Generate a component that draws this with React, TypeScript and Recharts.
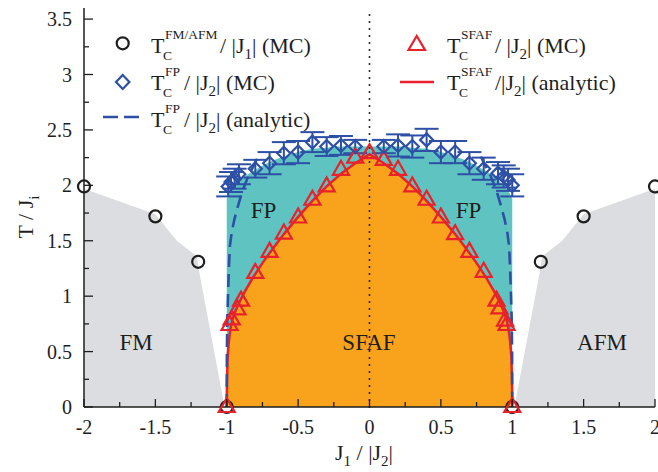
import React from "react";
import {
  ComposedChart, Area, Line, Scatter, XAxis, YAxis, ReferenceLine, ErrorBar,
} from "recharts";

// ── ticks ────────────────────────────────────────────────────────
const xTicks = [-2, -1.75, -1.5, -1.25, -1, -0.75, -0.5, -0.25, 0, 0.25, 0.5, 0.75, 1, 1.25, 1.5, 1.75, 2];
const yTicks = [0, 0.25, 0.5, 0.75, 1, 1.25, 1.5, 1.75, 2, 2.25, 2.5, 2.75, 3, 3.25, 3.5];

// ── MC points ────────────────────────────────────────────────────
const fmAfmMC = [
  { x: -2, y: 1.99 }, { x: -1.5, y: 1.72 }, { x: -1.2, y: 1.31 }, { x: -1, y: 0 },
  { x: 1, y: 0 }, { x: 1.2, y: 1.31 }, { x: 1.5, y: 1.72 }, { x: 2, y: 1.99 },
];

const fpMC = [
  { x: -0.99, y: 1.99, err: 0.09 }, { x: -0.97, y: 2.03, err: 0.09 },
  { x: -0.945, y: 2.06, err: 0.09 }, { x: -0.915, y: 2.1, err: 0.09 },
  { x: -0.8, y: 2.15, err: 0.08 }, { x: -0.7, y: 2.2, err: 0.1 },
  { x: -0.6, y: 2.29, err: 0.1 }, { x: -0.5, y: 2.3, err: 0.1 },
  { x: -0.4, y: 2.39, err: 0.09 }, { x: -0.3, y: 2.35, err: 0.085 },
  { x: -0.2, y: 2.36, err: 0.085 }, { x: -0.1, y: 2.35, err: 0.06 },
  { x: 0.1, y: 2.35, err: 0.06 }, { x: 0.2, y: 2.36, err: 0.1 },
  { x: 0.3, y: 2.35, err: 0.1 }, { x: 0.4, y: 2.41, err: 0.1 },
  { x: 0.5, y: 2.3, err: 0.1 }, { x: 0.6, y: 2.3, err: 0.1 },
  { x: 0.7, y: 2.2, err: 0.1 }, { x: 0.8, y: 2.15, err: 0.1 },
  { x: 0.9, y: 2.11, err: 0.1 }, { x: 0.94, y: 2.08, err: 0.1 },
  { x: 0.97, y: 2.05, err: 0.1 }, { x: 1.0, y: 2.0, err: 0.1 },
];

const sfafMC = [
  { x: -1, y: 0 }, { x: -0.98, y: 0.74 }, { x: -0.965, y: 0.79 }, { x: -0.925, y: 0.88 },
  { x: -0.9, y: 0.96 }, { x: -0.8, y: 1.21 }, { x: -0.7, y: 1.4 }, { x: -0.6, y: 1.565 },
  { x: -0.5, y: 1.71 }, { x: -0.4, y: 1.87 }, { x: -0.3, y: 1.99 }, { x: -0.2, y: 2.14 },
  { x: -0.1, y: 2.25 }, { x: 0, y: 2.29 },
  { x: 0.1, y: 2.23 }, { x: 0.2, y: 2.14 }, { x: 0.3, y: 1.99 }, { x: 0.4, y: 1.87 },
  { x: 0.5, y: 1.71 }, { x: 0.6, y: 1.56 }, { x: 0.7, y: 1.4 }, { x: 0.8, y: 1.22 },
  { x: 0.89, y: 0.96 }, { x: 0.91, y: 0.89 }, { x: 0.95, y: 0.78 }, { x: 0.96, y: 0.74 },
  { x: 1, y: 0 },
];

// ── analytic curves ──────────────────────────────────────────────
const sfafAnalytic = [
  { x: -1, y: 0 }, { x: -0.999, y: 0.15 }, { x: -0.997, y: 0.3 }, { x: -0.994, y: 0.45 },
  { x: -0.986, y: 0.58 }, { x: -0.976, y: 0.69 }, { x: -0.96, y: 0.79 }, { x: -0.938, y: 0.87 },
  { x: -0.91, y: 0.95 }, { x: -0.87, y: 1.05 }, { x: -0.82, y: 1.16 }, { x: -0.76, y: 1.28 },
  { x: -0.7, y: 1.39 }, { x: -0.6, y: 1.56 }, { x: -0.5, y: 1.715 }, { x: -0.4, y: 1.86 },
  { x: -0.3, y: 1.99 }, { x: -0.2, y: 2.105 }, { x: -0.1, y: 2.2 }, { x: 0, y: 2.28 },
  { x: 0.1, y: 2.2 }, { x: 0.2, y: 2.105 }, { x: 0.3, y: 1.99 }, { x: 0.4, y: 1.86 },
  { x: 0.5, y: 1.715 }, { x: 0.6, y: 1.56 }, { x: 0.7, y: 1.39 }, { x: 0.76, y: 1.28 },
  { x: 0.82, y: 1.16 }, { x: 0.87, y: 1.05 }, { x: 0.91, y: 0.95 }, { x: 0.938, y: 0.87 },
  { x: 0.96, y: 0.79 }, { x: 0.976, y: 0.69 }, { x: 0.986, y: 0.58 }, { x: 0.994, y: 0.45 },
  { x: 0.997, y: 0.3 }, { x: 0.999, y: 0.15 }, { x: 1, y: 0 },
];

const fpAnalyticLeft = [
  { x: -1, y: 0 }, { x: -0.999, y: 0.5 }, { x: -0.996, y: 0.8 }, { x: -0.99, y: 1.05 },
  { x: -0.985, y: 1.25 }, { x: -0.978, y: 1.45 }, { x: -0.965, y: 1.58 }, { x: -0.945, y: 1.7 },
  { x: -0.92, y: 1.82 }, { x: -0.89, y: 1.95 }, { x: -0.85, y: 2.08 }, { x: -0.81, y: 2.18 },
  { x: -0.78, y: 2.26 },
];

const fpAnalyticRight = [
  { x: 0.78, y: 2.26 }, { x: 0.81, y: 2.18 }, { x: 0.85, y: 2.08 }, { x: 0.89, y: 1.95 },
  { x: 0.92, y: 1.82 }, { x: 0.945, y: 1.7 }, { x: 0.965, y: 1.58 }, { x: 0.978, y: 1.45 },
  { x: 0.985, y: 1.25 }, { x: 0.99, y: 1.05 }, { x: 0.996, y: 0.8 }, { x: 0.999, y: 0.5 },
  { x: 1, y: 0 },
];

// ── shaded phases ────────────────────────────────────────────────
const fmRegion = [
  { x: -2, y: 1.97 }, { x: -1.5, y: 1.74 }, { x: -1.35, y: 1.5 }, { x: -1.21, y: 1.36 },
  { x: -1.19, y: 1.2 }, { x: -1.015, y: 0 },
];
const afmRegion = [
  { x: 1.015, y: 0 }, { x: 1.19, y: 1.2 }, { x: 1.21, y: 1.36 }, { x: 1.35, y: 1.5 },
  { x: 1.5, y: 1.74 }, { x: 2, y: 1.97 },
];
const fpRegion = [
  { x: -1, y: 1.88 }, { x: -0.98, y: 1.93 }, { x: -0.95, y: 1.98 }, { x: -0.9, y: 2.05 },
  { x: -0.85, y: 2.1 }, { x: -0.8, y: 2.14 }, { x: -0.7, y: 2.21 }, { x: -0.6, y: 2.26 },
  { x: -0.5, y: 2.3 }, { x: -0.4, y: 2.33 }, { x: -0.3, y: 2.34 }, { x: -0.2, y: 2.35 },
  { x: -0.1, y: 2.35 }, { x: 0, y: 2.35 }, { x: 0.1, y: 2.35 }, { x: 0.2, y: 2.35 },
  { x: 0.3, y: 2.34 }, { x: 0.4, y: 2.33 }, { x: 0.5, y: 2.3 }, { x: 0.6, y: 2.26 },
  { x: 0.7, y: 2.21 }, { x: 0.8, y: 2.14 }, { x: 0.85, y: 2.1 }, { x: 0.9, y: 2.05 },
  { x: 0.95, y: 1.98 }, { x: 0.98, y: 1.93 }, { x: 1, y: 1.88 },
];

const SERIF = "'Liberation Serif', 'Times New Roman', serif";
const INK = "#1e1e1e";
const RED = "#e8212b";
const BLUE = "#2d50a6";

const isMajor = (v: number) => Math.abs(v * 2 - Math.round(v * 2)) < 1e-6;

const BottomTick = ({ x, y, payload }: any) => {
  const v = payload.value;
  return (
    <g>
      <line x1={x} y1={y} x2={x} y2={y - (isMajor(v) ? 8 : 5)} stroke={INK} strokeWidth={1.3} />
      {isMajor(v) && (
        <text x={x} y={y + 27} textAnchor="middle" fontSize={20} fontFamily={SERIF} fill={INK}>{String(v)}</text>
      )}
    </g>
  );
};
const TopTick = ({ x, y, payload }: any) => (
  <line x1={x} y1={y} x2={x} y2={y + (isMajor(payload.value) ? 8 : 5)} stroke={INK} strokeWidth={1.3} />
);
const LeftTick = ({ x, y, payload }: any) => {
  const v = payload.value;
  return (
    <g>
      <line x1={x} y1={y} x2={x + (isMajor(v) ? 9 : 5)} y2={y} stroke={INK} strokeWidth={1.3} />
      {isMajor(v) && (
        <text x={x - 12} y={y + 7} textAnchor="end" fontSize={20} fontFamily={SERIF} fill={INK}>{String(v)}</text>
      )}
    </g>
  );
};
const RightTick = ({ x, y, payload }: any) => (
  <line x1={x} y1={y} x2={x - (isMajor(payload.value) ? 9 : 5)} y2={y} stroke={INK} strokeWidth={1.3} />
);

const CircleMark = ({ cx, cy }: any) => (
  <circle cx={cx} cy={cy} r={6} fill="none" stroke={INK} strokeWidth={2.2} />
);
const TriangleMark = ({ cx, cy }: any) => (
  <polygon points={`${cx},${cy - 9} ${cx - 8},${cy + 5} ${cx + 8},${cy + 5}`} fill="none" stroke={RED} strokeWidth={2.2} />
);
const DiamondMark = ({ cx, cy }: any) => (
  <polygon points={`${cx},${cy - 6.5} ${cx + 6.5},${cy} ${cx},${cy + 6.5} ${cx - 6.5},${cy}`} fill="none" stroke={BLUE} strokeWidth={2.2} />
);

// legend label  T_C^sup / |J_n| tail
const TLabel = ({ x, y, sup, restX, slash, n, tail }: any) => (
  <g fontFamily={SERIF} fill={INK}>
    <text x={x} y={y} fontSize={22}>T</text>
    <text x={x + 14} y={y - 14} fontSize={13.5}>{sup}</text>
    <text x={x + 12} y={y + 7} fontSize={13.5}>C</text>
    <text x={restX} y={y} fontSize={22}>
      {slash}
      <tspan fontSize={15} dy={6}>{n}</tspan>
      <tspan dy={-6}>{tail}</tspan>
    </text>
  </g>
);

export default function App() {
  return (
    <div style={{ position: "absolute", left: 0, top: 0, width: 658, height: 472, background: "#fff" }}>
      <ComposedChart width={658} height={472} margin={{ top: 8, right: 3, left: 24, bottom: 35 }}>
        <XAxis xAxisId={0} type="number" dataKey="x" domain={[-2, 2]} ticks={xTicks} interval={0}
          tickSize={0} tickMargin={0} tickLine={false} tick={<BottomTick />} stroke={INK} strokeWidth={1.5} height={30} />
        <XAxis xAxisId="top" orientation="top" type="number" dataKey="x" domain={[-2, 2]} ticks={xTicks} interval={0}
          tickSize={0} tickMargin={0} tickLine={false} tick={<TopTick />} stroke={INK} strokeWidth={1.5} height={0} />
        <YAxis yAxisId={0} type="number" domain={[0, 3.6]} ticks={yTicks} interval={0}
          tickSize={0} tickMargin={0} tickLine={false} tick={<LeftTick />} stroke={INK} strokeWidth={1.5} width={60} />
        <YAxis yAxisId="right" orientation="right" type="number" domain={[0, 3.6]} ticks={yTicks} interval={0}
          tickSize={0} tickMargin={0} tickLine={false} tick={<RightTick />} stroke={INK} strokeWidth={1.5} width={0} />

        <Area data={fmRegion} dataKey="y" type="linear" stroke="none" fill="#dcdde0" fillOpacity={1} isAnimationActive={false} />
        <Area data={afmRegion} dataKey="y" type="linear" stroke="none" fill="#dcdde0" fillOpacity={1} isAnimationActive={false} />
        <Area data={fpRegion} dataKey="y" type="monotone" stroke="none" fill="#5fc4c1" fillOpacity={1} isAnimationActive={false} />
        <Area data={sfafAnalytic} dataKey="y" type="linear" stroke="none" fill="#f8a31b" fillOpacity={1} isAnimationActive={false} />

        <ReferenceLine x={0} stroke={INK} strokeWidth={2} strokeDasharray="0 7" strokeLinecap="round" />

        <Line data={sfafAnalytic} dataKey="y" type="linear" stroke={RED} strokeWidth={2.5} dot={false} isAnimationActive={false} />
        <Line data={fpAnalyticLeft} dataKey="y" type="linear" stroke={BLUE} strokeWidth={2.6} strokeDasharray="13 7" dot={false} isAnimationActive={false} />
        <Line data={fpAnalyticRight} dataKey="y" type="linear" stroke={BLUE} strokeWidth={2.6} strokeDasharray="13 7" dot={false} isAnimationActive={false} />

        <Scatter data={fmAfmMC} dataKey="y" shape={<CircleMark />} isAnimationActive={false} />
        <Scatter data={sfafMC} dataKey="y" shape={<TriangleMark />} isAnimationActive={false} />
        <Scatter data={fpMC} dataKey="y" shape={<DiamondMark />} isAnimationActive={false}>
          <ErrorBar dataKey="err" direction="y" width={12} stroke={BLUE} strokeWidth={2} />
        </Scatter>
      </ComposedChart>

      <svg width={658} height={472} style={{ position: "absolute", left: 0, top: 0, pointerEvents: "none" }}>
        {/* legend */}
        <circle cx={122.7} cy={43.3} r={6} fill="none" stroke={INK} strokeWidth={2.2} />
        <TLabel x={151} y={53} sup="FM/AFM" restX={220} slash="/ |J" n="1" tail="| (MC)" />
        <polygon points="122.7,75 116,82 122.7,89 129.4,82" fill="none" stroke={BLUE} strokeWidth={2.2} />
        <TLabel x={151} y={90} sup="FP" restX={184} slash="/ |J" n="2" tail="| (MC)" />
        <line x1={103} y1={117} x2={140} y2={117} stroke={BLUE} strokeWidth={2.6} strokeDasharray="15 6" />
        <TLabel x={151} y={127} sup="FP" restX={184} slash="/ |J" n="2" tail="| (analytic)" />
        <polygon points="416.7,36 408.5,50 425,50" fill="none" stroke={RED} strokeWidth={2.2} />
        <TLabel x={447} y={53} sup="SFAF" restX={495} slash="/ |J" n="2" tail="| (MC)" />
        <line x1={400} y1={82} x2={434} y2={82} stroke={RED} strokeWidth={2.5} />
        <TLabel x={447} y={90} sup="SFAF" restX={495} slash="/|J" n="2" tail="| (analytic)" />

        {/* phase names */}
        <g fontFamily={SERIF} fill={INK} fontSize={23} textAnchor="middle">
          <text x={136} y={350}>FM</text>
          <text x={369} y={350}>SFAF</text>
          <text x={602} y={350}>AFM</text>
          <text x={263.5} y={218}>FP</text>
          <text x={468.5} y={218}>FP</text>
        </g>

        {/* axis titles */}
        <text x={364} y={460} fontFamily={SERIF} fontSize={22} fill={INK} textAnchor="middle">
          J<tspan fontSize={15} dy={6}>1</tspan><tspan dy={-6}> / |J</tspan><tspan fontSize={15} dy={6}>2</tspan><tspan dy={-6}>|</tspan>
        </text>
        <text transform="translate(33,217) rotate(-90)" fontFamily={SERIF} fontSize={22} fill={INK} textAnchor="middle">
          T / J<tspan fontSize={15} dy={6}>i</tspan>
        </text>
      </svg>
    </div>
  );
}
